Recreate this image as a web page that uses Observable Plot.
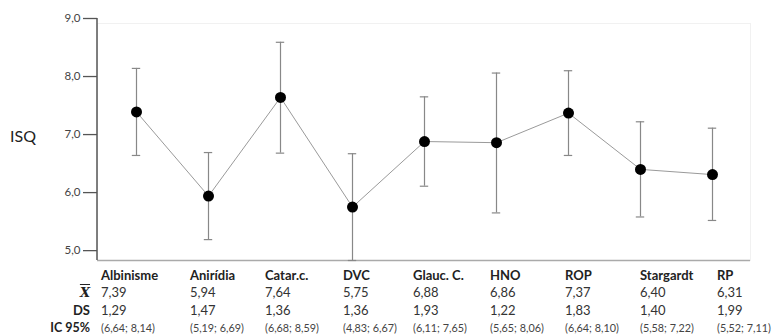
<!DOCTYPE html>
<html>
<head>
<meta charset="utf-8">
<script src="https://cdn.jsdelivr.net/npm/d3@7"></script>
<script src="https://cdn.jsdelivr.net/npm/@observablehq/plot@0.6"></script>
<style>
  body { margin: 0; background: #fff; font-family: Lato, "Noto Sans", sans-serif; }
  #wrap { position: relative; width: 775px; height: 336px; overflow: hidden; }
  #chart { position: absolute; left: 0; top: 0; }
  #ylabel { position: absolute; left: 10px; top: 126px; font-size: 16px; color: #222; }
  #table {
    position: absolute; left: 0; top: 267px;
    display: grid;
    grid-template-columns: 101px 89px 75px 78px 70px 77px 75px 75px 77px 58px;
    grid-auto-rows: 17.3px;
    align-items: center;
    font-size: 13px; line-height: 13px; color: #333; white-space: nowrap;
  }
  #table .rowlab { text-align: right; padding-right: 11px; font-weight: bold; color: #222; line-height: 12px; }
  #table .head { font-weight: bold; color: #222; }
  #table .ci { font-size: 10.8px; line-height: 11px; color: #444; }
  #table .cilab { font-size: 12.5px; }
  #table .xbar { font-family: "DejaVu Serif", serif; font-style: italic; font-weight: bold; text-decoration: overline; font-size: 13px; }
</style>
</head>
<body>
<div id="wrap">
  <div id="chart"></div>
  <div id="ylabel">ISQ</div>
  <div id="table"></div>
</div>
<script>
// ISQ per diagnostic group: mean, standard deviation and 95% confidence interval
const categories = ["Albinisme", "Anirídia", "Catar.c.", "DVC", "Glauc. C.", "HNO", "ROP", "Stargardt", "RP"];
const means  = [7.39, 5.94, 7.64, 5.75, 6.88, 6.86, 7.37, 6.40, 6.31];
const sds    = [1.29, 1.47, 1.36, 1.36, 1.93, 1.22, 1.83, 1.40, 1.99];
const ciLow  = [6.64, 5.19, 6.68, 4.83, 6.11, 5.65, 6.64, 5.58, 5.52];
const ciHigh = [8.14, 6.69, 8.59, 6.67, 7.65, 8.06, 8.10, 7.22, 7.11];
const yTicks = [5, 6, 7, 8, 9];
const yDomain = [4.83, 9];

const rows = categories.map((category, i) => ({
  category, mean: means[i], sd: sds[i], lo: ciLow[i], hi: ciHigh[i]
}));

const comma = (v, digits) => v.toFixed(digits).replace(".", ",");

// left axis line drawn from the y scale
const leftAxisLine = (index, scales, values, dimensions) => {
  const line = document.createElementNS("http://www.w3.org/2000/svg", "line");
  const x = dimensions.marginLeft;
  line.setAttribute("x1", x);
  line.setAttribute("x2", x);
  line.setAttribute("y1", scales.y(yDomain[1]));
  line.setAttribute("y2", scales.y(yDomain[0]));
  line.setAttribute("stroke", "#555");
  line.setAttribute("stroke-width", 1.5);
  return line;
};

const capInset = 31.8;

const chart = Plot.plot({
  width: 775,
  height: 266,
  marginLeft: 97,
  marginRight: 25,
  marginTop: 18,
  marginBottom: 6,
  style: { fontFamily: "Lato, sans-serif", fontSize: "11.5px", color: "#444", background: "transparent" },
  x: { domain: categories, padding: 0, axis: null },
  y: { domain: yDomain, axis: null },
  marks: [
    Plot.frame({ stroke: "#f1f1f1", insetTop: 5 }),
    Plot.ruleY([yDomain[0]], { stroke: "#aaa", strokeWidth: 1.3 }),
    Plot.axisY({
      ticks: yTicks,
      tickFormat: d => comma(d, 1),
      tickSize: 14,
      tickPadding: 3,
      stroke: "#555",
      fill: "#444",
      strokeWidth: 1.3
    }),
    leftAxisLine,
    Plot.line(rows, { x: "category", y: "mean", stroke: "#9a9a9a", strokeWidth: 1 }),
    Plot.ruleX(rows, { x: "category", y1: "lo", y2: "hi", stroke: "#888", strokeWidth: 1.2 }),
    Plot.tickY(rows, { x: "category", y: "lo", stroke: "#888", strokeWidth: 1.2, insetLeft: capInset, insetRight: capInset }),
    Plot.tickY(rows, { x: "category", y: "hi", stroke: "#888", strokeWidth: 1.2, insetLeft: capInset, insetRight: capInset }),
    Plot.dot(rows, { x: "category", y: "mean", r: 5.5, fill: "#000", stroke: "none" })
  ]
});
document.getElementById("chart").appendChild(chart);

// summary table under the chart: one label cell, then one cell per group
const table = d3.select("#table");
const addRow = (labelHtml, labelClass, cells, cellClass) => {
  table.append("div").attr("class", "rowlab " + labelClass).html(labelHtml);
  cells.forEach(t => table.append("div").attr("class", cellClass).text(t));
};
addRow("", "", categories, "head");
addRow('<span class="xbar">X</span>', "", means.map(v => comma(v, 2)), "val");
addRow("DS", "", sds.map(v => comma(v, 2)), "val");
addRow("IC 95%", "cilab", ciLow.map((v, i) => `(${comma(v, 2)}; ${comma(ciHigh[i], 2)})`), "ci");
</script>
</body>
</html>
